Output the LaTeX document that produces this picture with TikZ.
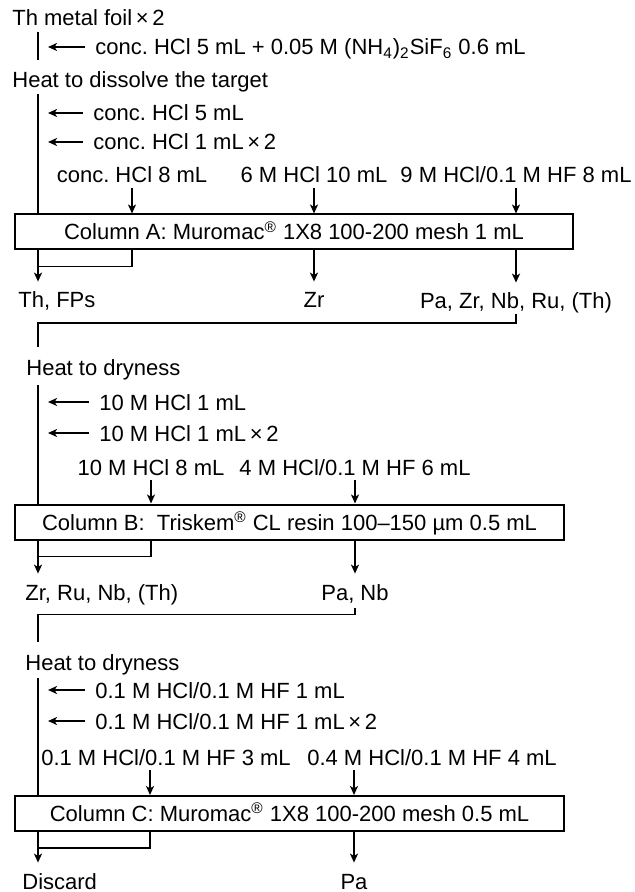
\documentclass[tikz,border=0pt]{standalone}
\usepackage{fontspec}
\setmainfont{Liberation Sans}
\frenchspacing
\usetikzlibrary{arrows.meta,positioning,calc}

\begin{document}
\begin{tikzpicture}[x=0.5pt,y=-0.5pt,
    txt/.style={inner sep=0pt, text height=8pt, text depth=0pt, font=\fontsize{11}{13}\selectfont},
    col/.style={draw, line width=1pt, inner sep=0pt, minimum width=274.5pt, minimum height=17.5pt, text height=8pt, text depth=0pt, font=\fontsize{11}{13}\selectfont},
    ln/.style={line width=0.9pt},
    arr/.style={-{Stealth[length=4.5pt,width=4pt,inset=1.2pt]}, line width=0.9pt},
    side/.style={arr, shorten <=5pt, shorten >=5pt}
]
\useasboundingbox (0,0) rectangle (634,892);
\coordinate (tr) at (38,0);
\coordinate (brC) at (150,0);

\node[txt,anchor=west] (foil) at (12,18) {Th metal foil\,×\,2};
\node[txt,anchor=west] (dissA) at (95,47) {conc. HCl 5 mL + 0.05 M (NH\textsubscript{4})\textsubscript{2}SiF\textsubscript{6} 0.6 mL};
\node[txt,anchor=west] (heatA) at (12,80) {Heat to dissolve the target};
\node[txt,anchor=west] (addA1) at (93,113) {conc. HCl 5 mL};
\node[txt,anchor=west] (addA2) at (93,142) {conc. HCl 1 mL\,×\,2};
\node[txt] (eluA1) at (132,175) {conc. HCl 8 mL};
\node[txt] (eluA2) at (314,175) {6 M HCl 10 mL};
\node[txt] (eluA3) at (516,175) {9 M HCl/0.1 M HF 8 mL};
\node[col,minimum width=279pt] (colA) at (294,232) {Column A: Muromac\textsuperscript{®} 1X8 100-200 mesh 1 mL};
\node[txt,anchor=west] (outA1) at (18,300) {Th, FPs};
\node[txt] (outA2) at (314,300) {Zr};
\node[txt] (outA3) at (516,301) {Pa, Zr, Nb, Ru, (Th)};

\node[txt,anchor=west] (heatB) at (26,367) {Heat to dryness};
\node[txt,anchor=west] (addB1) at (99,402) {10 M HCl 1 mL};
\node[txt,anchor=west] (addB2) at (99,433) {10 M HCl 1 mL\,×\,2};
\node[txt] (eluB1) at (151,467) {10 M HCl 8 mL};
\node[txt] (eluB2) at (355,467) {4 M HCl/0.1 M HF 6 mL};
\node[col] (colB) at (289.5,522) {Column B:\ \ Triskem\textsuperscript{®} CL resin 100–150 µm 0.5 mL};
\node[txt,anchor=west] (outB1) at (25,592) {Zr, Ru, Nb, (Th)};
\node[txt] (outB2) at (355,592) {Pa, Nb};

\node[txt,anchor=west] (heatC) at (25,662) {Heat to dryness};
\node[txt,anchor=west] (addC1) at (95,690) {0.1 M HCl/0.1 M HF 1 mL};
\node[txt,anchor=west] (addC2) at (95,721) {0.1 M HCl/0.1 M HF 1 mL\,×\,2};
\node[txt] (eluC1) at (166,757) {0.1 M HCl/0.1 M HF 3 mL};
\node[txt] (eluC2) at (432,757) {0.4 M HCl/0.1 M HF 4 mL};
\node[col] (colC) at (289.5,813.5) {Column C: Muromac\textsuperscript{®} 1X8 100-200 mesh 0.5 mL};
\node[txt,anchor=west] (outC1) at (22,881) {Discard};
\node[txt] (outC2) at (354,881) {Pa};

\draw[ln,shorten <=3pt,shorten >=6pt] (foil.south -| tr) -- (heatA.north -| tr);
\draw[side] (dissA.west) -- (dissA.west -| tr);
\draw[ln,shorten <=3pt] (heatA.south -| tr) -- (colA.north -| tr);
\draw[side] (addA1.west) -- (addA1.west -| tr);
\draw[side] (addA2.west) -- (addA2.west -| tr);
\draw[arr,shorten <=2.5pt] (eluA1.south) -- (eluA1.south |- colA.north);
\draw[arr,shorten <=2.5pt] (eluA2.south) -- (eluA2.south |- colA.north);
\draw[arr,shorten <=2.5pt] (eluA3.south) -- (eluA3.south |- colA.north);
\draw[arr,shorten >=5pt] (colA.south -| tr) -- (outA1.north -| tr);
\draw[ln] (colA.south -| eluA1) |- ($(colA.south -| tr)+(0,16)$);
\draw[arr,shorten >=5pt] (colA.south -| outA2) -- (outA2.north);
\draw[arr,shorten >=5pt] (colA.south -| outA3) -- (outA3.north);
\draw[ln,shorten <=2.5pt,shorten >=6pt] (outA3.south) |- ($(outA3.south -| tr)+(0,14)$) -- (heatB.north -| tr);

\draw[ln,shorten <=5pt] (heatB.south -| tr) -- (colB.north -| tr);
\draw[side] (addB1.west) -- (addB1.west -| tr);
\draw[side] (addB2.west) -- (addB2.west -| tr);
\draw[arr,shorten <=2.5pt] (eluB1.south) -- (eluB1.south |- colB.north);
\draw[arr,shorten <=2.5pt] (eluB2.south) -- (eluB2.south |- colB.north);
\draw[arr,shorten >=5pt] (colB.south -| tr) -- (outB1.north -| tr);
\draw[ln] (colB.south -| eluB1) |- ($(colB.south -| tr)+(0,16)$);
\draw[arr,shorten >=5pt] (colB.south -| outB2) -- (outB2.north);
\draw[ln,shorten <=4pt,shorten >=6pt] (outB2.south) |- ($(outB2.south -| tr)+(0,14)$) -- (heatC.north -| tr);

\draw[ln,shorten <=4pt] (heatC.south -| tr) -- (colC.north -| tr);
\draw[side] (addC1.west) -- (addC1.west -| tr);
\draw[side] (addC2.west) -- (addC2.west -| tr);
\draw[arr,shorten <=2.5pt] (eluC1.south -| brC) -- (colC.north -| brC);
\draw[arr,shorten <=2.5pt] (eluC2.south -| outC2) -- (colC.north -| outC2);
\draw[arr,shorten >=5pt] (colC.south -| tr) -- (outC1.north -| tr);
\draw[ln] (colC.south -| brC) |- ($(colC.south -| tr)+(0,16)$);
\draw[arr,shorten >=5pt] (colC.south -| outC2) -- (outC2.north);
\end{tikzpicture}
\end{document}
